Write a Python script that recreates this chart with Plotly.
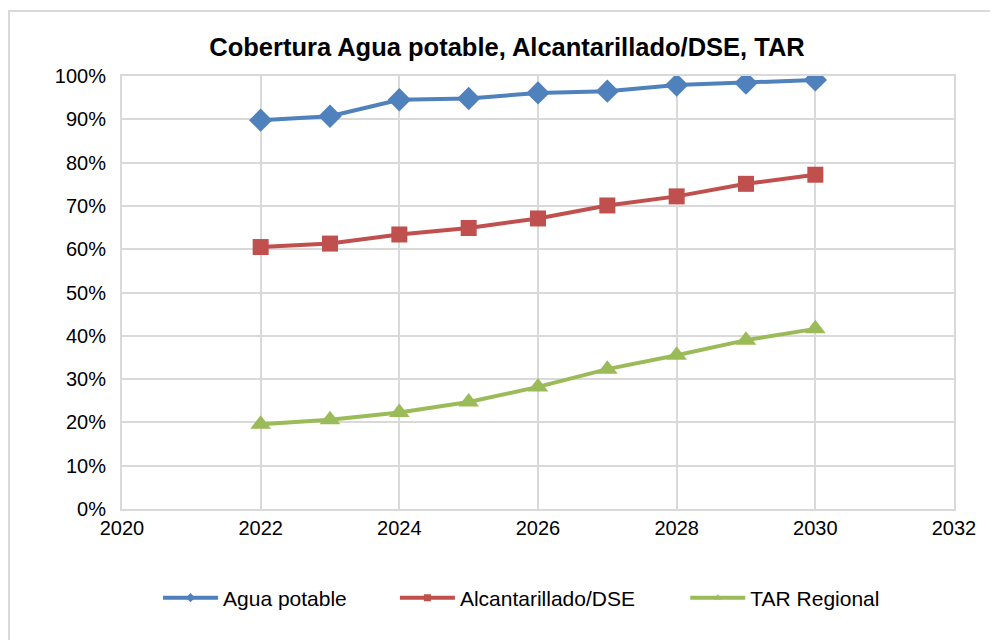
import plotly.graph_objects as go

# coverage by year (fraction)
years = [2022, 2023, 2024, 2025, 2026, 2027, 2028, 2029, 2030]
agua_potable = [0.898, 0.907, 0.945, 0.948, 0.961, 0.965, 0.979, 0.984, 0.991]
alcantarillado = [0.605, 0.613, 0.634, 0.649, 0.671, 0.701, 0.722, 0.751, 0.772]
tar_regional = [0.196, 0.206, 0.223, 0.247, 0.282, 0.323, 0.355, 0.390, 0.416]

series = [
    ("Agua potable", agua_potable, "#4F81BD", "diamond", 18, "legend"),
    ("Alcantarillado/DSE", alcantarillado, "#C0504D", "square", 16, "legend2"),
    ("TAR Regional", tar_regional, "#9BBB59", "triangle-up", 18, "legend3"),
]

fig = go.Figure()
for name, vals, color, symbol, size, leg in series:
    fig.add_trace(go.Scatter(
        x=years, y=vals, name=name, mode="lines+markers",
        line=dict(color=color, width=4),
        marker=dict(symbol=symbol, size=size, color=color),
        showlegend=False,
    ))
    # legend entry only: smaller marker like the reference key
    fig.add_trace(go.Scatter(
        x=[None], y=[None], name=name, mode="lines+markers",
        line=dict(color=color, width=4),
        marker=dict(symbol=symbol, size=7, color=color),
        legend=leg,
    ))

# one legend per entry so each can sit where the reference has it
leg_common = dict(orientation="h", y=-0.2055, yanchor="middle", xanchor="left",
                  font=dict(size=21), itemwidth=55,
                  bgcolor="rgba(0,0,0,0)")

fig.update_layout(
    width=998, height=640,
    paper_bgcolor="white", plot_bgcolor="white",
    font=dict(family="Liberation Sans, Arial", size=20, color="black"),
    title=dict(text="<b>Cobertura Agua potable, Alcantarillado/DSE, TAR</b>",
               x=0.5, xanchor="center", y=0.939, yanchor="middle",
               font=dict(size=25.5)),
    margin=dict(l=114, r=52, t=68, b=139),
    showlegend=True,
    legend=dict(x=0.0433, **leg_common),
    legend2=dict(x=0.328, **leg_common),
    legend3=dict(x=0.677, **leg_common),
    xaxis=dict(range=[2020, 2032], dtick=2, tickformat="d",
               showgrid=True, gridcolor="#d9d9d9", gridwidth=2,
               showline=True, linecolor="#d9d9d9", linewidth=2, mirror=True,
               zeroline=False, ticks="", ticklen=0),
    yaxis=dict(range=[0, 1], dtick=0.1, tickformat=".0%",
               showgrid=True, gridcolor="#d9d9d9", gridwidth=2,
               showline=True, linecolor="#d9d9d9", linewidth=2, mirror=True,
               zeroline=False, ticks="", ticklen=0, ticklabelstandoff=10),
)

# outer chart-area border (extends past the right/bottom of the frame)
fig.add_shape(type="rect", xref="paper", yref="paper",
              x0=-0.1358, x1=1.2, y0=-0.5, y1=1.150,
              line=dict(color="#d9d9d9", width=2), layer="below")

fig.write_html("out.html")
